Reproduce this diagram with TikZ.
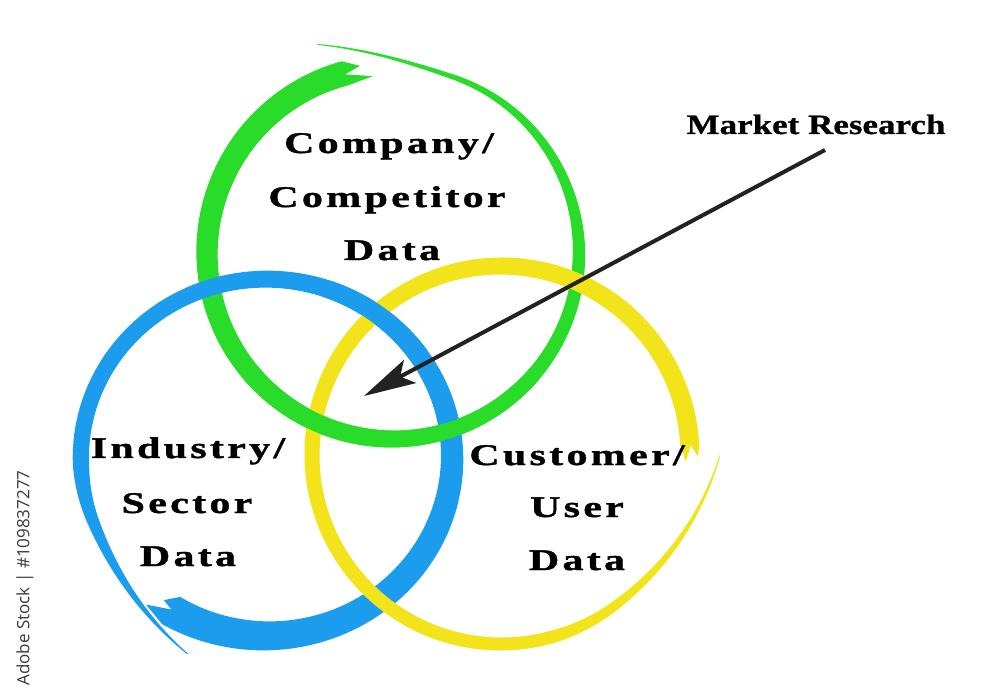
\documentclass[tikz,border=0pt]{standalone}
\usepackage{fontspec}
\usetikzlibrary{arrows.meta}
\newfontfamily\lblfont{Liberation Serif}[FakeStretch=1.4,LetterSpace=11,FakeBold=1.2]
\newfontfamily\mrfont{Liberation Serif}[FakeStretch=1.25,FakeBold=0.8]
\newfontfamily\wmfont{Open Sans}
\definecolor{rgreen}{HTML}{2ADC2A}
\definecolor{rblue}{HTML}{1C9CEC}
\definecolor{ryellow}{HTML}{F2E31B}
\definecolor{rdark}{HTML}{222222}
\definecolor{wmgray}{HTML}{3A3A3A}
\newcommand\rgN{240}
\newcommand\ringfull[1]{%
  \fill[#1] plot[domain=0:1,samples=\rgN] ({\rgcx+\rgkx*(ringR(\x)+ringW(\x)/2)*cos(ringA(\x))},{\rgcy+\rgky*(ringR(\x)+ringW(\x)/2)*sin(ringA(\x))})
  -- plot[domain=1:0,samples=\rgN] ({\rgcx+\rgkx*(ringR(\x)-ringW(\x)/2)*cos(ringA(\x))},{\rgcy+\rgky*(ringR(\x)-ringW(\x)/2)*sin(ringA(\x))})
  -- ({\rgcx+\rgkx*\rgir*cos(\rgia)},{\rgcy+\rgky*\rgir*sin(\rgia)})
  -- ({\rgcx+\rgkx*\rgnr*cos(\rgna)},{\rgcy+\rgky*\rgnr*sin(\rgna)})
  -- ({\rgcx+\rgkx*\rgor*cos(\rgoa)},{\rgcy+\rgky*\rgor*sin(\rgoa)})
  -- cycle;}
\newcommand\ringpart[3]{%
  \fill[#1] plot[domain=#2:#3,samples=80] ({\rgcx+\rgkx*(ringR(\x)+ringW(\x)/2)*cos(ringA(\x))},{\rgcy+\rgky*(ringR(\x)+ringW(\x)/2)*sin(ringA(\x))})
  -- plot[domain=#3:#2,samples=80] ({\rgcx+\rgkx*(ringR(\x)-ringW(\x)/2)*cos(ringA(\x))},{\rgcy+\rgky*(ringR(\x)-ringW(\x)/2)*sin(ringA(\x))})
  -- cycle;}
\newcommand\setgreen{%
  \def\rgcx{393}\def\rgcy{446}\def\rgkx{1}\def\rgky{1}%
  \def\rgaO{105}\def\rgsw{365}\def\rgRO{186}\def\rgG{36}\def\rgtg{0.893}%
  \def\rgWa{25}\def\rgWb{18}\def\rgWq{0}\def\rgWc{38}%
  \def\rgia{96.5}\def\rgir{178}\def\rgna{105}\def\rgnr{185}\def\rgoa{100}\def\rgor{190}}
\newcommand\setblue{%
  \def\rgcx{266.5}\def\rgcy{241.5}\def\rgkx{1.02}\def\rgky{0.98}%
  \def\rgaO{239}\def\rgsw{370}\def\rgRO{182}\def\rgG{33}\def\rgtg{0.87}%
  \def\rgWa{33}\def\rgWb{42.9}\def\rgWq{27}\def\rgWc{83}%
  \def\rgia{235.3}\def\rgir{177}\def\rgna{239}\def\rgnr{181}\def\rgoa{231.8}\def\rgor{191}}
\newcommand\setyellow{%
  \def\rgcx{501}\def\rgcy{244}\def\rgkx{1}\def\rgky{1}%
  \def\rgaO{3}\def\rgsw{357}\def\rgRO{189}\def\rgG{30}\def\rgtg{0.85}%
  \def\rgWa{19}\def\rgWb{8}\def\rgWq{0}\def\rgWc{56}%
  \def\rgia{-2}\def\rgir{185}\def\rgna{3}\def\rgnr{190}\def\rgoa{-0.5}\def\rgor{197}}
\begin{document}
\begin{tikzpicture}[x=1pt,y=1pt,
  declare function={
    ringA(\x)=\rgaO+\rgsw*\x;
    ringR(\x)=\rgRO+\rgG*(max(0,(\x-\rgtg)/(1-\rgtg)))^2;
    ringW(\x)=min(\rgWa-\rgWb*\x+\rgWq*\x*\x,1+\rgWc*(1-\x));
  },
  lbl/.style={font=\lblfont\bfseries\fontsize{30}{36}\selectfont, anchor=base, inner sep=0pt, text=black},
  mrlbl/.style={font=\mrfont\bfseries\fontsize{28}{34}\selectfont, anchor=base, inner sep=0pt, text=black},
  wmlbl/.style={font=\wmfont\fontsize{17}{20}\selectfont, text=wmgray, inner sep=0pt, rotate=90},
  pointer/.style={draw=rdark, line width=4pt, -{Stealth[length=52pt,width=26pt,inset=11pt]}}
]
\fill[white] (0,0) rectangle (1000,699);
\useasboundingbox (0,0) rectangle (1000,699);
% rings
{\setgreen \ringfull{rgreen}}
{\setblue \ringfull{rblue}}
{\setyellow \ringfull{ryellow}}
{\setgreen \ringpart{rgreen}{0.315}{0.589}}
{\setblue \ringpart{rblue}{0.42}{0.52}}
% labels
\node[lbl] (g1) at (389,546) {Company/};
\node[lbl] (g2) at (387,492) {Competitor};
\node[lbl] (g3) at (392,439) {Data};
\node[lbl] (b1) at (188,241) {Industry/};
\node[lbl] (b2) at (187,186) {Sector};
\node[lbl] (b3) at (188,133) {Data};
\node[lbl] (y1) at (577,234) {Customer/};
\node[lbl] (y2) at (577,182) {User};
\node[lbl] (y3) at (577,129) {Data};
\node[mrlbl] (mr) at (816,565) {Market Research};
\node[wmlbl] (wm) at (25,121) {Adobe Stock | \#109837277};
% arrow
\coordinate (arS) at (825,549);
\coordinate (arT) at (364,303);
\draw[pointer] (arS) -- (arT);
\end{tikzpicture}
\end{document}
